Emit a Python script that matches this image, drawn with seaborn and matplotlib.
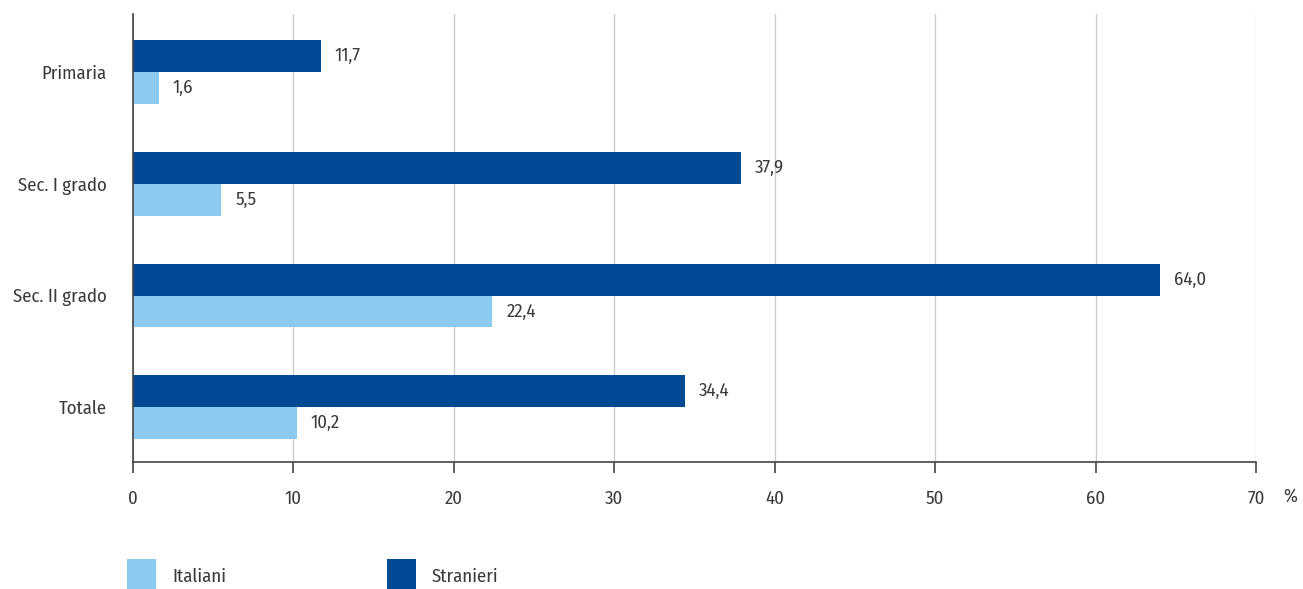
import matplotlib
matplotlib.use("Agg")
import matplotlib.pyplot as plt
import seaborn as sns
import pandas as pd
from matplotlib import font_manager
from matplotlib.patches import Rectangle

categories = ["Primaria", "Sec. I grado", "Sec. II grado", "Totale"]
stranieri = [11.7, 37.9, 64.0, 34.4]
italiani = [1.6, 5.5, 22.4, 10.2]
series_names = ["Stranieri", "Italiani"]
legend_names = ["Italiani", "Stranieri"]
xticks = [0, 10, 20, 30, 40, 50, 60, 70]

c_dark = "#004a93"
c_light = "#8ccbf0"
txt = "#3a3a3a"

sns.set_theme(style="white")
available = set(f.name for f in font_manager.fontManager.ttflist)
font = "DejaVu Sans"
for cand in ["Fira Sans Condensed", "Roboto Condensed", "Open Sans Condensed",
             "PT Sans Narrow", "Liberation Sans Narrow", "Open Sans"]:
    if cand in available:
        font = cand
        break
plt.rcParams["font.family"] = [font, "DejaVu Sans"]
FS = 13.5

df = pd.DataFrame({
    "cat": categories * 2,
    "val": stranieri + italiani,
    "serie": ["Stranieri"] * 4 + ["Italiani"] * 4,
})

W, H = 1303, 589
fig = plt.figure(figsize=(W / 100, H / 100), dpi=100)
ax = fig.add_axes([133 / W, 1 - 462 / H, (1256 - 133) / W, (462 - 14) / H])

sns.barplot(data=df, y="cat", x="val", hue="serie", hue_order=series_names,
            order=categories, palette=[c_dark, c_light], orient="h",
            width=0.572, saturation=1, ax=ax, legend=False, edgecolor="none")

ax.set_xlim(0, 70)
ax.set_ylim(3.49, -0.52)
ax.set_xticks(xticks)
ax.set_xticklabels([str(t) for t in xticks])
ax.xaxis.grid(True, color="#cccccc", linewidth=1)
ax.set_axisbelow(True)
ax.set_xlabel("")
ax.set_ylabel("")
for s in ["top", "right"]:
    ax.spines[s].set_visible(False)
for s in ["left", "bottom"]:
    ax.spines[s].set_color("#444444")
    ax.spines[s].set_linewidth(1.2)
ax.tick_params(axis="x", which="major", bottom=True, length=8, width=1.2,
               color="#444444", pad=12, labelsize=FS, labelcolor=txt)
ax.tick_params(axis="y", left=False, length=0, pad=19, labelsize=FS, labelcolor=txt)

for container in ax.containers:
    labels = [f"{b.get_width():.1f}".replace(".", ",") for b in container]
    ax.bar_label(container, labels=labels, padding=10, fontsize=FS, color=txt)

fig.text(1290 / W, 1 - 497 / H, "%", fontsize=FS, color=txt,
         ha="center", va="center")

# legend
for (x0, name, col) in [(127, legend_names[0], c_light), (387, legend_names[1], c_dark)]:
    fig.patches.append(Rectangle((x0 / W, 1 - 589 / H), 29 / W, 30 / H,
                                 transform=fig.transFigure, facecolor=col,
                                 edgecolor="none"))
    fig.text((x0 + 45) / W, 1 - 577 / H, name, fontsize=FS, color=txt,
             ha="left", va="center")

fig.savefig("out.png", dpi=100)
